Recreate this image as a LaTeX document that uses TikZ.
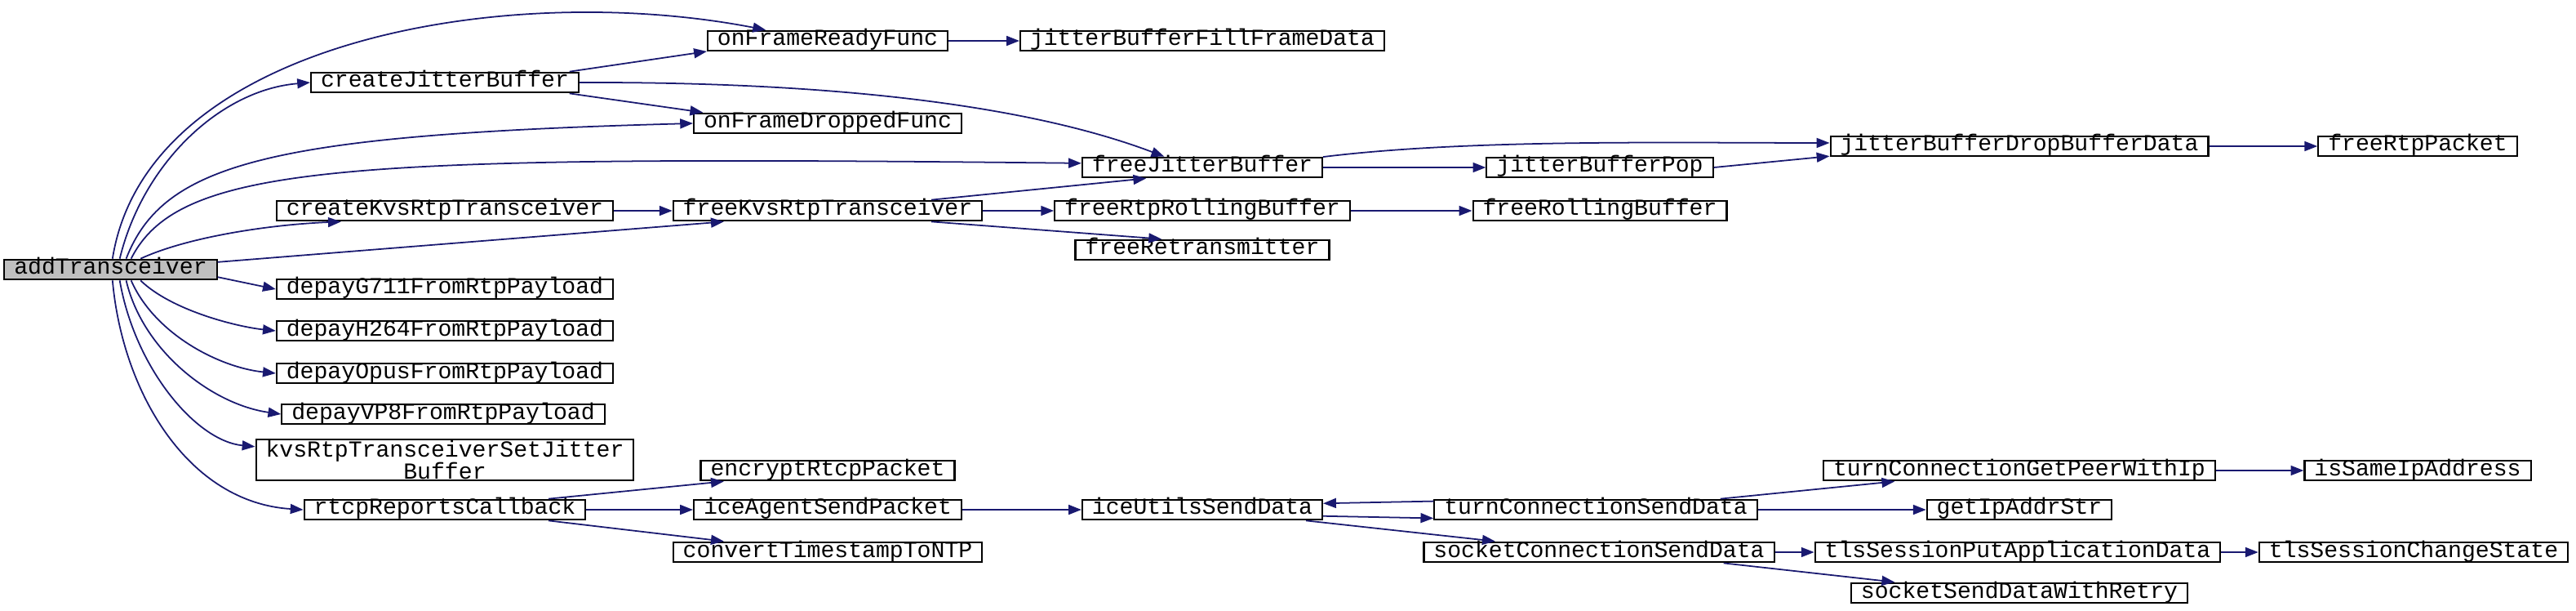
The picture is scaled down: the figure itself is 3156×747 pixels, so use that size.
\documentclass[tikz,border=0pt]{standalone}
\usepackage{fontspec}
\setmonofont{Liberation Mono}
\usetikzlibrary{arrows.meta}
\definecolor{dxblue}{HTML}{191970}
\definecolor{dxgray}{HTML}{BFBFBF}

\begin{document}
\begin{tikzpicture}[
  x=0.01cm, y=0.01cm,
  every node/.style={font=\ttfamily\fontsize{8}{7.6}\selectfont},
  fbase/.style={rectangle, draw=black, fill=white, line width=0.6pt, inner xsep=3.4pt, inner ysep=0pt},
  fnode/.style={fbase, minimum height=7pt, text height=5.2pt, text depth=1.8pt},
  fnode2/.style={fbase, minimum height=14.4pt, align=center},
  rootnode/.style={fnode, fill=dxgray},
  call/.style={draw=dxblue, line width=0.5pt, -{Triangle[length=4.5pt, width=3.4pt]}},
]
\useasboundingbox (0,0) rectangle (3156,-747);

\node[rootnode] (add) at (135.5, -330) {addTransceiver};

\node[fnode] (onready) at (1014, -50) {onFrameReadyFunc};
\node[fnode] (fillframe) at (1473, -50) {jitterBufferFillFrameData};
\node[fnode] (createjb) at (545, -101) {createJitterBuffer};
\node[fnode] (ondrop) at (1014, -151) {onFrameDroppedFunc};
\node[fnode] (freejb) at (1473, -205) {freeJitterBuffer};
\node[fnode] (jbpop) at (1960, -205) {jitterBufferPop};
\node[fnode] (dropdata) at (2474, -179) {jitterBufferDropBufferData};
\node[fnode] (freepkt) at (2962, -179) {freeRtpPacket};

\node[fnode] (createtr) at (545, -258) {createKvsRtpTransceiver};
\node[fnode] (freetr) at (1014, -258) {freeKvsRtpTransceiver};
\node[fnode] (freerb) at (1473, -258) {freeRtpRollingBuffer};
\node[fnode] (freeroll) at (1960, -258) {freeRollingBuffer};
\node[fnode] (freeretx) at (1473, -306) {freeRetransmitter};

\node[fnode] (depg711) at (545, -354) {depayG711FromRtpPayload};
\node[fnode] (deph264) at (545, -405) {depayH264FromRtpPayload};
\node[fnode] (depopus) at (545, -457) {depayOpusFromRtpPayload};
\node[fnode] (depvp8) at (543, -507) {depayVP8FromRtpPayload};
\node[fnode2] (setjb) at (545, -563) {kvsRtpTransceiverSetJitter\\Buffer};

\node[fnode] (rtcpcb) at (545, -624) {rtcpReportsCallback};
\node[fnode] (encrtcp) at (1014, -576) {encryptRtcpPacket};
\node[fnode] (icesend) at (1014, -624) {iceAgentSendPacket};
\node[fnode] (convntp) at (1014, -676) {convertTimestampToNTP};
\node[fnode] (iceutil) at (1473, -624) {iceUtilsSendData};
\node[fnode] (turnsend) at (1955, -624) {turnConnectionSendData};
\node[fnode] (turnpeer) at (2474, -576) {turnConnectionGetPeerWithIp};
\node[fnode] (sameip) at (2962, -576) {isSameIpAddress};
\node[fnode] (ipstr) at (2474, -624) {getIpAddrStr};
\node[fnode] (socksend) at (1959, -676) {socketConnectionSendData};
\node[fnode] (tlsput) at (2472, -676) {tlsSessionPutApplicationData};
\node[fnode] (tlsstate) at (2957, -676) {tlsSessionChangeState};
\node[fnode] (sockretry) at (2474, -726) {socketSendDataWithRetry};

\draw[call] (add.80) .. controls (180,-50) and (620,25) .. (onready.170);
\draw[call] (add.50) .. controls (175,-200) and (270,-110) .. (createjb.west);
\draw[call] (add.35) .. controls (200,-200) and (330,-165) .. (ondrop.west);
\draw[call] (add.28) .. controls (220,-200) and (420,-190) .. (freejb.178);
\draw[call] (add.20) .. controls (230,-290) and (330,-275) .. (createtr.186);
\draw[call] (add.4) -- (freetr.186);
\draw[call] (add.-4) -- (depg711.west);
\draw[call] (add.-20) .. controls (210,-380) and (290,-400) .. (deph264.west);
\draw[call] (add.-28) .. controls (190,-410) and (270,-450) .. (depopus.west);
\draw[call] (add.-35) .. controls (175,-430) and (260,-495) .. (depvp8.west);
\draw[call] (add.-50) .. controls (165,-450) and (240,-540) .. (setjb.176);
\draw[call] (add.-80) .. controls (150,-480) and (230,-615) .. (rtcpcb.west);

\draw[call] (onready) -- (fillframe);
\draw[call] (createjb.5) -- (onready.185);
\draw[call] (createjb.-5) -- (ondrop.175);
\draw[call] (createjb.east) .. controls (1000,-100) and (1250,-125) .. (freejb.164);
\draw[call] (freejb) -- (jbpop);
\draw[call] (freejb.5) .. controls (1800,-170) and (2050,-175) .. (dropdata.179);
\draw[call] (jbpop.east) -- (dropdata.183);
\draw[call] (dropdata) -- (freepkt);

\draw[call] (createtr) -- (freetr);
\draw[call] (freetr.6) -- (freejb.191);
\draw[call] (freetr) -- (freerb);
\draw[call] (freetr.-6) -- (freeretx.165);
\draw[call] (freerb) -- (freeroll);

\draw[call] (rtcpcb.6) -- (encrtcp.186);
\draw[call] (rtcpcb) -- (icesend);
\draw[call] (rtcpcb.-6) -- (convntp.174);
\draw[call] (icesend) -- (iceutil);
\draw[call] (iceutil.-3) -- (turnsend.183);
\draw[call] (turnsend.177) -- (iceutil.3);
\draw[call] (iceutil.-6) -- (socksend.174);
\draw[call] (turnsend.5) -- (turnpeer.185);
\draw[call] (turnsend) -- (ipstr);
\draw[call] (turnpeer) -- (sameip);
\draw[call] (socksend) -- (tlsput);
\draw[call] (socksend.-5) -- (sockretry.175);
\draw[call] (tlsput) -- (tlsstate);
\end{tikzpicture}
\end{document}
